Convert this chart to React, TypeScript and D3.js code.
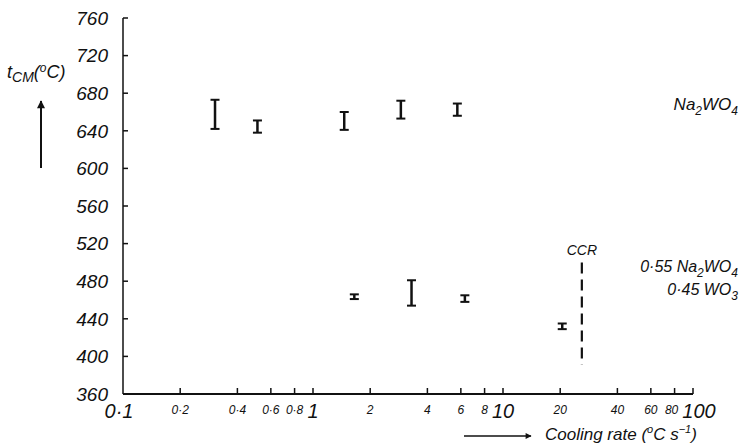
import * as d3 from "d3";
import { useEffect, useRef } from "react";

// Na2WO4 series (cooling rate, t_CM range)
const naRate = [0.305, 0.51, 1.46, 2.9, 5.75];
const naLow = [642, 638, 641, 653, 656];
const naHigh = [673, 651, 660, 672, 669];

// 0.55 Na2WO4 + 0.45 WO3 series
const mixRate = [1.65, 3.3, 6.3, 20.5];
const mixLow = [461, 454, 458, 429];
const mixHigh = [466, 481, 465, 435];

const ccrRate = 26;
const ccrRange = [391, 500];

const yTicks = [360, 400, 440, 480, 520, 560, 600, 640, 680, 720, 760];
const xTicks = [0.2, 0.4, 0.6, 0.8, 1, 2, 4, 6, 8, 10, 20, 40, 60, 80, 100];
const xLabels = [
    { v: 0.1, t: "0·1", big: true },
    { v: 0.2, t: "0·2", big: false },
    { v: 0.4, t: "0·4", big: false },
    { v: 0.6, t: "0·6", big: false },
    { v: 0.8, t: "0·8", big: false },
    { v: 1, t: "1", big: true },
    { v: 2, t: "2", big: false },
    { v: 4, t: "4", big: false },
    { v: 6, t: "6", big: false },
    { v: 8, t: "8", big: false },
    { v: 10, t: "10", big: true },
    { v: 20, t: "20", big: false },
    { v: 40, t: "40", big: false },
    { v: 60, t: "60", big: false },
    { v: 80, t: "80", big: false },
    { v: 100, t: "100", big: true },
];

const FONT = "'Liberation Sans', Arial, sans-serif";

function App() {
    const svgRef = useRef(null);

    useEffect(() => {
        const svg = d3.select(svgRef.current);
        svg.selectAll("*").remove();

        const width = 750;
        const height = 445;
        const margin = { top: 18, right: 57, bottom: 51, left: 123 };

        svg.attr("width", width).attr("height", height);

        const x = d3
            .scaleLog()
            .domain([0.1, 100])
            .range([margin.left, width - margin.right]);

        const y = d3
            .scaleLinear()
            .domain([360, 760])
            .range([height - margin.bottom, margin.top]);

        const g = svg.append("g").attr("font-family", FONT).attr("font-style", "italic");
        const ink = "#111";

        // axes lines
        g.append("line")
            .attr("x1", x(0.1)).attr("x2", x(0.1))
            .attr("y1", y(760)).attr("y2", y(360))
            .attr("stroke", ink).attr("stroke-width", 1.5);
        g.append("line")
            .attr("x1", x(0.1)).attr("x2", x(100))
            .attr("y1", y(360)).attr("y2", y(360))
            .attr("stroke", ink).attr("stroke-width", 1.8);

        // y ticks (inward)
        g.selectAll(".yt")
            .data(yTicks.filter(d => d > 360))
            .enter()
            .append("line")
            .attr("x1", x(0.1)).attr("x2", x(0.1) + 5)
            .attr("y1", d => y(d)).attr("y2", d => y(d))
            .attr("stroke", ink).attr("stroke-width", 1.5);

        g.selectAll(".yl")
            .data(yTicks)
            .enter()
            .append("text")
            .attr("x", 108)
            .attr("y", d => y(d))
            .attr("dy", "0.36em")
            .attr("text-anchor", "end")
            .style("font-size", "19px")
            .attr("fill", ink)
            .text(d => d);

        // x ticks (inward)
        g.selectAll(".xt")
            .data(xTicks)
            .enter()
            .append("line")
            .attr("x1", d => x(d)).attr("x2", d => x(d))
            .attr("y1", y(360)).attr("y2", y(360) - 6)
            .attr("stroke", ink).attr("stroke-width", 1.5);

        g.selectAll(".xl")
            .data(xLabels)
            .enter()
            .append("text")
            .attr("x", d => x(d.v) + (d.v === 0.1 ? -4 : d.v === 100 ? 6 : d.v === 80 ? -3 : 0))
            .attr("y", d => (d.big ? 418 : 414))
            .attr("text-anchor", "middle")
            .style("font-size", d => (d.big ? "20px" : "12px"))
            .attr("fill", ink)
            .text(d => d.t);

        // error bars
        const drawBars = (rates, lows, highs) => {
            rates.forEach((r, i) => {
                const cx = x(r);
                const y1 = y(highs[i]);
                const y2 = y(lows[i]);
                g.append("line")
                    .attr("x1", cx).attr("x2", cx)
                    .attr("y1", y1).attr("y2", y2)
                    .attr("stroke", ink).attr("stroke-width", 2.5);
                [y1, y2].forEach(yy => {
                    g.append("line")
                        .attr("x1", cx - 4.5).attr("x2", cx + 4.5)
                        .attr("y1", yy).attr("y2", yy)
                        .attr("stroke", ink).attr("stroke-width", 2);
                });
            });
        };
        drawBars(naRate, naLow, naHigh);
        drawBars(mixRate, mixLow, mixHigh);

        // CCR dashed line
        g.append("line")
            .attr("x1", x(ccrRate)).attr("x2", x(ccrRate))
            .attr("y1", y(ccrRange[1])).attr("y2", y(ccrRange[0]))
            .attr("stroke", ink).attr("stroke-width", 2.2)
            .attr("stroke-dasharray", "11,6");
        g.append("text")
            .attr("x", x(ccrRate))
            .attr("y", y(ccrRange[1]) - 7)
            .attr("text-anchor", "middle")
            .style("font-size", "14px")
            .attr("fill", ink)
            .text("CCR");

        // series labels
        const na = g.append("text")
            .attr("x", 738).attr("y", 110)
            .attr("text-anchor", "end")
            .style("font-size", "17px")
            .attr("fill", ink);
        na.append("tspan").text("Na");
        na.append("tspan").attr("dy", 5).style("font-size", "12px").text("2");
        na.append("tspan").attr("dy", -5).text("WO");
        na.append("tspan").attr("dy", 5).style("font-size", "12px").text("4");

        const mix1 = g.append("text")
            .attr("x", 738).attr("y", 272)
            .attr("text-anchor", "end")
            .style("font-size", "16px")
            .attr("fill", ink);
        mix1.append("tspan").text("0·55 Na");
        mix1.append("tspan").attr("dy", 5).style("font-size", "12px").text("2");
        mix1.append("tspan").attr("dy", -5).text("WO");
        mix1.append("tspan").attr("dy", 5).style("font-size", "12px").text("4");

        const mix2 = g.append("text")
            .attr("x", 738).attr("y", 295)
            .attr("text-anchor", "end")
            .style("font-size", "16px")
            .attr("fill", ink);
        mix2.append("tspan").text("0·45 WO");
        mix2.append("tspan").attr("dy", 5).style("font-size", "12px").text("3");

        // y label
        const yl = g.append("text")
            .attr("x", 7).attr("y", 78)
            .style("font-size", "18px")
            .attr("fill", ink);
        yl.append("tspan").text("t");
        yl.append("tspan").attr("dy", 4).style("font-size", "14px").text("CM");
        yl.append("tspan").attr("dy", -4).text("(");
        yl.append("tspan").attr("dy", -6).style("font-size", "12px").text("o");
        yl.append("tspan").attr("dy", 6).text("C)");

        // arrows
        const defs = svg.append("defs");
        defs.append("marker")
            .attr("id", "arr")
            .attr("viewBox", "0 0 10 10")
            .attr("refX", 9).attr("refY", 5)
            .attr("markerWidth", 5).attr("markerHeight", 4)
            .attr("orient", "auto")
            .append("path")
            .attr("d", "M0,0L10,5L0,10z")
            .attr("fill", ink);

        g.append("line")
            .attr("x1", 41).attr("x2", 41)
            .attr("y1", 168).attr("y2", 101)
            .attr("stroke", ink).attr("stroke-width", 2)
            .attr("marker-end", "url(#arr)");

        g.append("line")
            .attr("x1", 464).attr("x2", 531)
            .attr("y1", 436).attr("y2", 436)
            .attr("stroke", ink).attr("stroke-width", 1.5)
            .attr("marker-end", "url(#arr)");

        // x label
        const xl = g.append("text")
            .attr("x", 545).attr("y", 440)
            .style("font-size", "17px")
            .attr("fill", ink);
        xl.append("tspan").text("Cooling rate (");
        xl.append("tspan").attr("dy", -7).style("font-size", "11px").text("o");
        xl.append("tspan").attr("dy", 7).text("C s");
        xl.append("tspan").attr("dy", -7).style("font-size", "11px").text("−1");
        xl.append("tspan").attr("dy", 7).text(")");
    }, []);

    return <svg ref={svgRef} style={{ position: "absolute", left: 0, top: 0, background: "#fff" }} />;
}

export default App;
